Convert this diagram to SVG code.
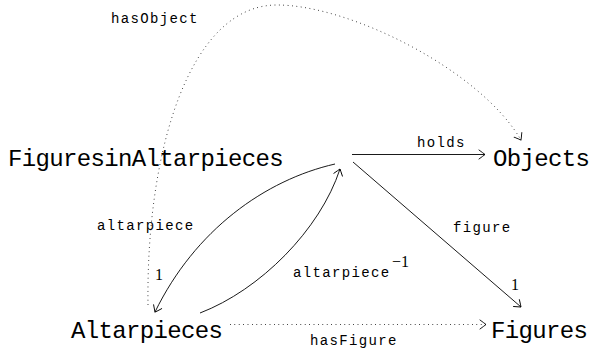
<svg xmlns="http://www.w3.org/2000/svg" width="589" height="350" viewBox="0 0 589 350">
  <style>
    .node { font-family: "Liberation Mono", "DejaVu Sans Mono", monospace; font-size: 24px; letter-spacing: -0.65px; fill: #000; }
    .lbl { font-family: "Liberation Mono", "DejaVu Sans Mono", monospace; font-size: 14px; letter-spacing: 1.35px; fill: #000; }
    .num { font-family: "Liberation Serif", "DejaVu Serif", serif; font-size: 16px; fill: #000; }
    .edge { fill: none; stroke: #000; stroke-width: 0.9; }
    .dot { fill: none; stroke: #000; stroke-width: 0.9; stroke-dasharray: 0.8 3.6; }
  </style>
  <defs>
    <marker id="to" viewBox="-8 -6 10 12" refX="0" refY="0" markerWidth="10" markerHeight="12" markerUnits="userSpaceOnUse" orient="auto">
      <path d="M -6 -4.5 Q -1.5 -1.2 0 0 Q -1.5 1.2 -6 4.5" fill="none" stroke="#000" stroke-width="0.9" stroke-linecap="round"/>
    </marker>
  </defs>
  <rect width="589" height="350" fill="#fff"/>

  <!-- nodes -->
  <g id="figuresinaltarpieces"><text class="node" x="8" y="166">FiguresinAltarpieces</text></g>
  <g id="objects"><text class="node" x="493" y="166">Objects</text></g>
  <g id="altarpieces"><text class="node" x="71" y="338">Altarpieces</text></g>
  <g id="figures"><text class="node" x="491" y="338">Figures</text></g>

  <!-- connectors -->
  <g id="edges">
    <path class="dot" d="M148,305 C146,150 190,5 277,5 C350,5 480,70 521,140" marker-end="url(#to)"/>
    <path class="edge" d="M352,154.5 L485,154.5" marker-end="url(#to)"/>
    <path class="edge" d="M353,162 L521,307" marker-end="url(#to)"/>
    <path class="edge" d="M335,164 C265,180 195,230 155,312" marker-end="url(#to)"/>
    <path class="edge" d="M200,313 C260,290 320,230 340,169" marker-end="url(#to)"/>
    <path class="dot" d="M230,324.5 L486,324.5" marker-end="url(#to)"/>
  </g>

  <!-- edge labels -->
  <g id="labels">
    <text class="lbl" x="111" y="23">hasObject</text>
    <text class="lbl" x="417" y="147">holds</text>
    <text class="lbl" x="97" y="230">altarpiece</text>
    <text class="num" x="155" y="280">1</text>
    <text class="lbl" x="453" y="232">figure</text>
    <text class="num" x="511" y="290">1</text>
    <text class="lbl" x="293" y="277">altarpiece</text>
    <text class="num" x="392" y="267" font-size="11">−1</text>
    <text class="lbl" x="310" y="345">hasFigure</text>
  </g>
</svg>
